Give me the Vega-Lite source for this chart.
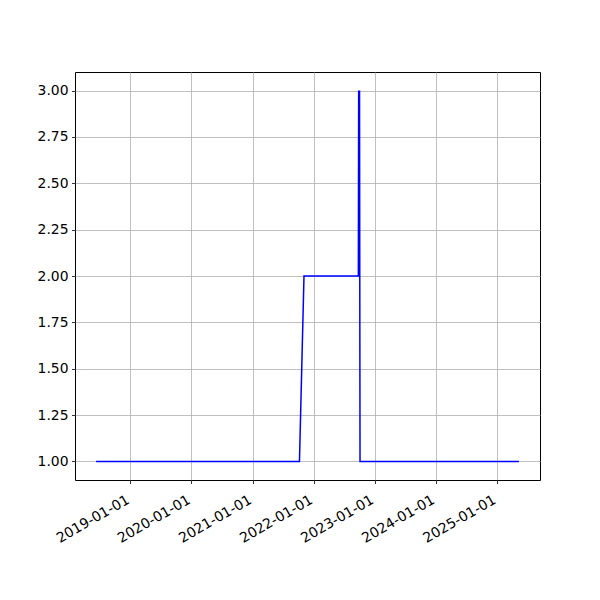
{
  "$schema": "https://vega.github.io/schema/vega-lite/v6.json",
  "autosize": {"type": "none"},
  "padding": {"left": 75, "top": 72, "right": 60, "bottom": 120},
  "width": 465,
  "height": 408,
  "background": "white",
  "data": {
    "values": [
      {"date": "2018-06-10", "value": 1},
      {"date": "2021-10-08", "value": 1},
      {"date": "2021-11-04", "value": 2},
      {"date": "2022-09-25", "value": 2},
      {"date": "2022-09-27", "value": 3},
      {"date": "2022-09-30", "value": 2},
      {"date": "2022-10-02", "value": 3},
      {"date": "2022-10-05", "value": 1},
      {"date": "2025-05-12", "value": 1}
    ]
  },
  "mark": {"type": "line", "color": "#0000ff", "strokeWidth": 1.5, "clip": true},
  "encoding": {
    "x": {
      "field": "date",
      "type": "temporal",
      "scale": {
        "type": "utc",
        "domain": [{"year": 2018, "month": 2, "date": 4, "utc": true}, {"year": 2025, "month": 9, "date": 15, "utc": true}]
      },
      "axis": {
        "title": null,
        "labelExpr": "utcFormat(datum.value, '%Y-%m-%d')",
        "values": [
          {"year": 2019, "month": 1, "date": 1, "utc": true},
          {"year": 2020, "month": 1, "date": 1, "utc": true},
          {"year": 2021, "month": 1, "date": 1, "utc": true},
          {"year": 2022, "month": 1, "date": 1, "utc": true},
          {"year": 2023, "month": 1, "date": 1, "utc": true},
          {"year": 2024, "month": 1, "date": 1, "utc": true},
          {"year": 2025, "month": 1, "date": 1, "utc": true}
        ],
        "labelAngle": -30,
        "labelAlign": "right",
        "labelBaseline": "top",
        "labelPadding": 9,
        "labelOffset": -6,
        "labelFontSize": 14
      }
    },
    "y": {
      "field": "value",
      "type": "quantitative",
      "scale": {"domain": [0.9, 3.1], "nice": false, "zero": false},
      "axis": {
        "title": null,
        "values": [1, 1.25, 1.5, 1.75, 2, 2.25, 2.5, 2.75, 3],
        "format": ".2f",
        "labelPadding": 3.5
      }
    }
  },
  "config": {
    "view": {"stroke": "black", "strokeWidth": 1},
    "axis": {
      "domain": false,
      "grid": true,
      "gridColor": "#b0b0b0",
      "gridWidth": 0.8,
      "gridOpacity": 1,
      "tickColor": "black",
      "tickSize": 3.5,
      "tickWidth": 0.8,
      "labelFont": "DejaVu Sans",
      "labelFontSize": 13.9,
      "labelColor": "black",
      "labelFlush": false,
      "labelOverlap": false
    }
  }
}
